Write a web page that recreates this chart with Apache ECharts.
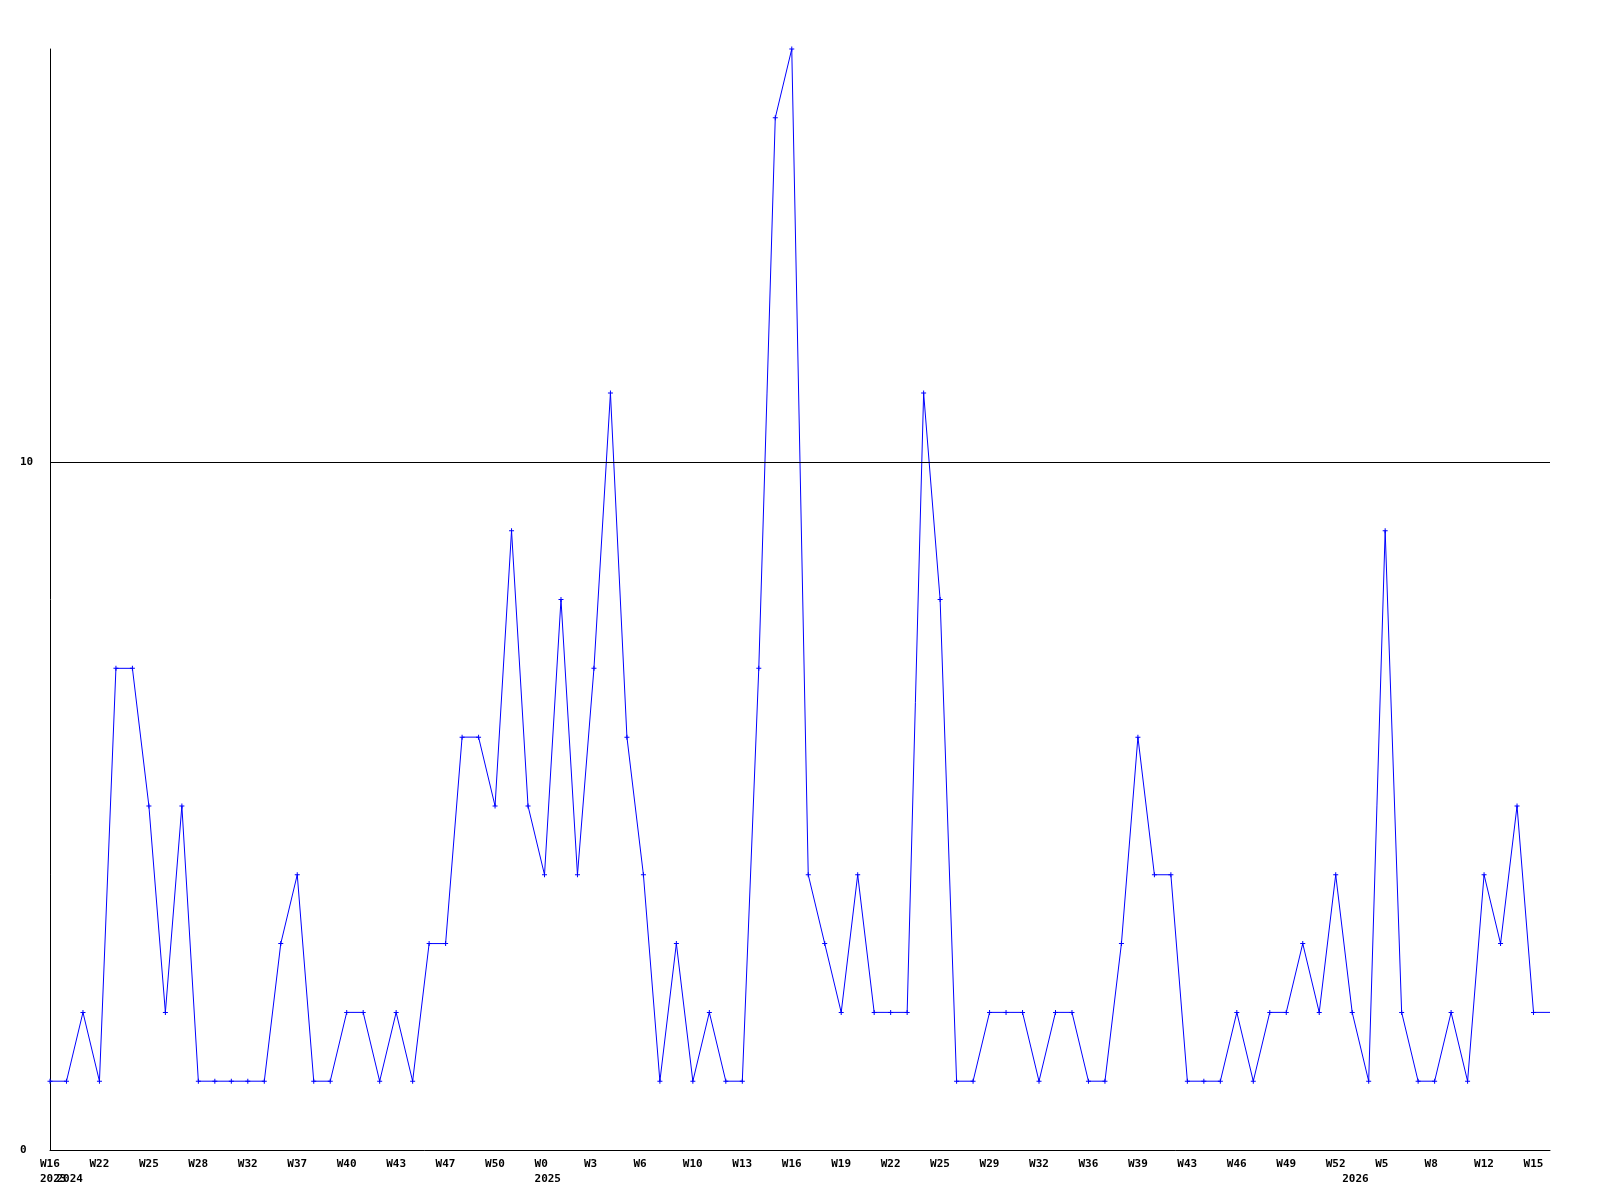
<!DOCTYPE html>
<html>
<head>
<meta charset="utf-8">
<title>weekly</title>
<script src="https://cdn.jsdelivr.net/npm/echarts@6/dist/echarts.min.js"></script>
<style>
  html, body { margin: 0; padding: 0; background: #fff; }
  #chart { width: 1600px; height: 1200px; }
</style>
</head>
<body>
<div id="chart"></div>
<script>
// one value per point, last point is the running (unfinished) one
const counts = [
  1, 1, 2, 1, 7, 7, 5, 2, 5, 1,
  1, 1, 1, 1, 3, 4, 1, 1, 2, 2,
  1, 2, 1, 3, 3, 6, 6, 5, 9, 5,
  4, 8, 4, 7, 11, 6, 4, 1, 3, 1,
  2, 1, 1, 7, 15, 16, 4, 3, 2, 4,
  2, 2, 2, 11, 8, 1, 1, 2, 2, 2,
  1, 2, 2, 1, 1, 3, 6, 4, 4, 1,
  1, 1, 2, 1, 2, 2, 3, 2, 4, 2,
  1, 9, 2, 1, 1, 2, 1, 4, 3, 5,
  2, 2
];

// week label on every 3rd point
const weekLabels = [
  'W16', 'W22', 'W25', 'W28', 'W32', 'W37', 'W40', 'W43', 'W47', 'W50',
  'W0', 'W3', 'W6', 'W10', 'W13', 'W16', 'W19', 'W22', 'W25', 'W29',
  'W32', 'W36', 'W39', 'W43', 'W46', 'W49', 'W52', 'W5', 'W8', 'W12', 'W15'
];
const labelStep = 3;

// first point of each year
const yearIndex = [0, 1, 30, 79];
const yearText = ['2023', '2024', '2025', '2026'];

const yTicks = [0, 10];

const categories = counts.map((v, i) => i % labelStep === 0 ? (weekLabels[i / labelStep] || '') : '');
const years = counts.map((v, i) => {
  const k = yearIndex.indexOf(i);
  return k >= 0 ? yearText[k] : '';
});

const font = 'DejaVu Sans Mono';
const labelFont = {
  color: '#000',
  fontFamily: font,
  fontWeight: 'bold',
  fontSize: 11
};
// small plus-shaped point marker
const plusMark = 'path://M2,0H3V2H5V3H3V5H2V3H0V2H2Z';

const chart = echarts.init(document.getElementById('chart'));

chart.setOption({
  animation: false,
  backgroundColor: '#ffffff',
  grid: { left: 50, right: 50, top: 49, bottom: 50, containLabel: false },
  xAxis: [{
    // week labels (+ year when the year starts on a labelled point)
    type: 'category',
    data: categories,
    boundaryGap: false,
    axisLine: { lineStyle: { color: '#000', width: 1 } },
    axisTick: { show: false },
    splitLine: { show: false },
    axisLabel: Object.assign({
      interval: (i) => categories[i] !== '',
      formatter: (val, i) => years[i] ? val + '\n' + years[i] : val,
      showMinLabel: true,
      showMaxLabel: true,
      align: 'left',
      verticalAlign: 'top',
      padding: [0, 0, 0, -10],
      margin: 7,
      lineHeight: 15
    }, labelFont)
  }, {
    // years that start between two labelled points
    type: 'category',
    data: categories,
    boundaryGap: false,
    position: 'bottom',
    axisLine: { show: false },
    axisTick: { show: false },
    splitLine: { show: false },
    axisLabel: Object.assign({
      interval: (i) => years[i] !== '' && categories[i] === '',
      formatter: (val, i) => years[i],
      showMinLabel: true,
      showMaxLabel: true,
      align: 'left',
      verticalAlign: 'top',
      padding: [0, 0, 0, -10],
      margin: 22,
      lineHeight: 15
    }, labelFont)
  }],
  yAxis: {
    type: 'value',
    min: 0,
    max: 16,
    interval: 10,
    axisLine: { show: true, lineStyle: { color: '#000', width: 1 } },
    axisTick: { show: false },
    splitLine: { show: false },
    axisLabel: Object.assign({
      showMaxLabel: false,
      formatter: (v) => yTicks.indexOf(v) >= 0 ? String(v) : '',
      align: 'left',
      margin: 30
    }, labelFont)
  },
  series: [{
    type: 'line',
    xAxisIndex: 0,
    data: counts.map((v, i) => i === counts.length - 1 ? { value: v, symbol: 'none' } : v),
    symbol: plusMark,
    symbolSize: 5,
    showAllSymbol: true,
    color: '#0000ff',
    lineStyle: { color: '#0000ff', width: 1 },
    itemStyle: { color: '#0000ff' },
    markLine: {
      silent: true,
      symbol: 'none',
      label: { show: false },
      lineStyle: { color: '#000', width: 1, type: 'solid' },
      data: [{ yAxis: 10 }]
    }
  }]
});
</script>
</body>
</html>
